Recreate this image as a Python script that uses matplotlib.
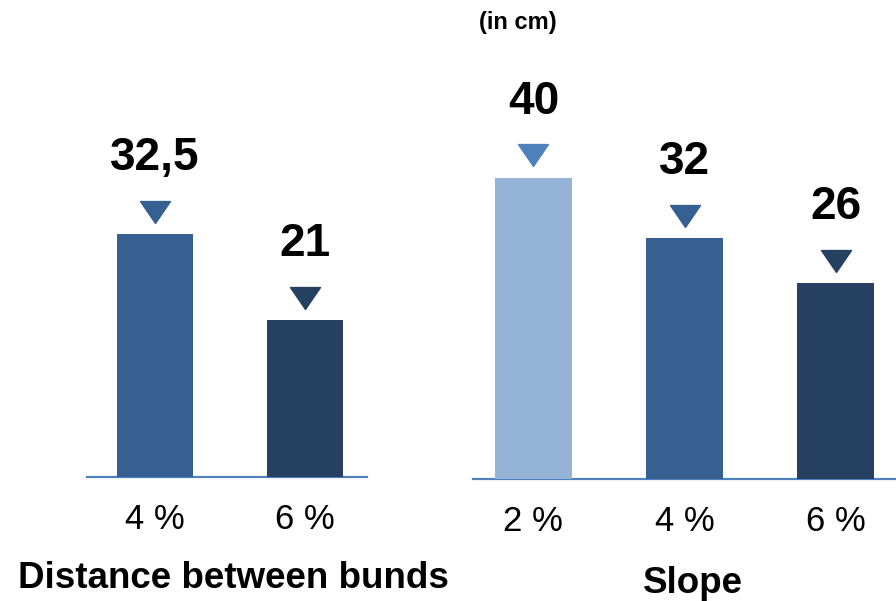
import matplotlib.pyplot as plt
from matplotlib.path import Path

# data
dist_labels = ['4 %', '6 %']
dist_values = [32.5, 21]
slope_labels = ['2 %', '4 %', '6 %']
slope_values = [40, 32, 26]

# colours
light = '#95B3D7'
mid = '#376092'
dark = '#254061'
bright = '#4F81BD'

plt.rcParams['font.family'] = ['Liberation Sans', 'DejaVu Sans']

fig = plt.figure(figsize=(8.96, 6.01), dpi=100)

# flat downward triangle marker (30 px wide, 22 px tall)
tri = Path([(-1, 0.73), (1, 0.73), (0, -0.73), (-1, 0.73)],
           [Path.MOVETO, Path.LINETO, Path.LINETO, Path.CLOSEPOLY])


def panel(ax, labels, values, bar_colors, tri_colors, xlim):
    x = list(range(len(values)))
    ax.bar(x, values, width=0.507, color=bar_colors, zorder=3)
    for i, v in enumerate(values):
        ax.plot(i, v, marker=tri, markersize=21.6, color=tri_colors[i],
                linestyle='none', transform=ax.transData +
                plt.matplotlib.transforms.ScaledTranslation(0, 16 / 72, fig.dpi_scale_trans),
                clip_on=False)
        ax.annotate(f'{v:g}'.replace('.', ','), xy=(i, v), xytext=(0, 46),
                    textcoords='offset points', ha='center', va='baseline',
                    fontsize=33, fontweight='bold', color='black')
    ax.set_xlim(*xlim)
    ax.set_ylim(0, 60)
    ax.set_xticks(x)
    ax.set_xticklabels(labels, fontsize=25)
    ax.tick_params(axis='x', length=0, pad=19)
    ax.set_yticks([])
    for s in ['top', 'right', 'left']:
        ax.spines[s].set_visible(False)
    ax.spines['bottom'].set_color(bright)
    ax.spines['bottom'].set_linewidth(1.6)
    ax.patch.set_visible(False)


ax1 = fig.add_axes([87 / 896, 124 / 601, 280 / 896, 448 / 601])
panel(ax1, dist_labels, dist_values, [mid, dark], [mid, dark], (-0.45, 1.41))

ax2 = fig.add_axes([473 / 896, 122 / 601, 423 / 896, 452 / 601])
panel(ax2, slope_labels, slope_values, [light, mid, dark], [bright, mid, dark], (-0.4, 2.4))

fig.text(233 / 896, 1 - 588 / 601, 'Distance between bunds', ha='center', va='baseline',
         fontsize=26.5, fontweight='bold')
fig.text(693 / 896, 1 - 593 / 601, 'Slope', ha='center', va='baseline',
         fontsize=26.5, fontweight='bold')
fig.text(518 / 896, 1 - 23 / 601, '(in cm)', ha='center', va='center',
         fontsize=17, fontweight='bold')

fig.savefig('out.png', dpi=100)
